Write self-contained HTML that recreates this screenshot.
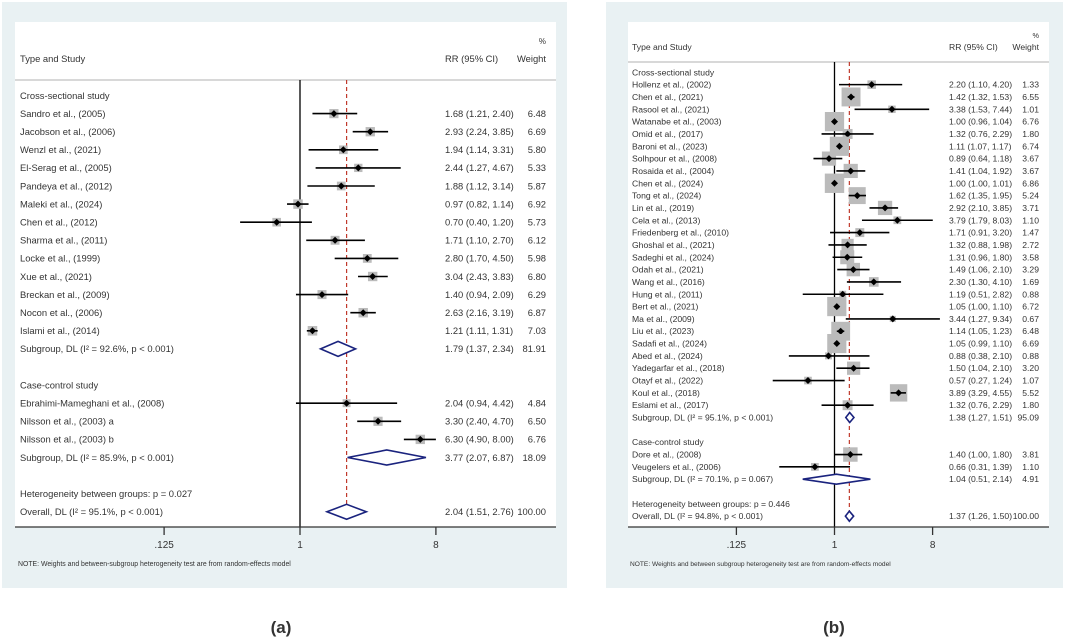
<!DOCTYPE html>
<html><head><meta charset="utf-8"><style>
body{margin:0;background:#fff;font-family:"Liberation Sans",sans-serif}
svg text{font-family:"Liberation Sans",sans-serif;fill:#333}
</style></head><body>
<svg id="c" width="1065" height="637" xmlns="http://www.w3.org/2000/svg"></svg>
<script>
// Panel A data
const aLabels=["Sandro et al., (2005)","Jacobson et al., (2006)","Wenzl et al., (2021)","El-Serag et al., (2005)","Pandeya et al., (2012)","Maleki et al., (2024)","Chen et al., (2012)","Sharma et al., (2011)","Locke et al., (1999)","Xue et al., (2021)","Breckan et al., (2009)","Nocon et al., (2006)","Islami et al., (2014)","Ebrahimi-Mameghani et al., (2008)","Nilsson et al., (2003) a","Nilsson et al., (2003) b"];
const aRR=[1.68,2.93,1.94,2.44,1.88,0.97,0.70,1.71,2.80,3.04,1.40,2.63,1.21,2.04,3.30,6.30];
const aLo=[1.21,2.24,1.14,1.27,1.12,0.82,0.40,1.10,1.70,2.43,0.94,2.16,1.11,0.94,2.40,4.90];
const aHi=[2.40,3.85,3.31,4.67,3.14,1.14,1.20,2.70,4.50,3.83,2.09,3.19,1.31,4.42,4.70,8.00];
const aW=[6.48,6.69,5.80,5.33,5.87,6.92,5.73,6.12,5.98,6.80,6.29,6.87,7.03,4.84,6.50,6.76];
const aGroup=[0,0,0,0,0,0,0,0,0,0,0,0,0,1,1,1];
const aSubLabels=["Subgroup, DL (I² = 92.6%, p < 0.001)","Subgroup, DL (I² = 85.9%, p < 0.001)","Overall, DL (I² = 95.1%, p < 0.001)"];
const aSubRR=[1.79,3.77,2.04];const aSubLo=[1.37,2.07,1.51];const aSubHi=[2.34,6.87,2.76];const aSubW=["81.91","18.09","100.00"];
const aHet="Heterogeneity between groups: p = 0.027";
// Panel B data
const bLabels=["Hollenz et al., (2002)","Chen et al., (2021)","Rasool et al., (2021)","Watanabe et al., (2003)","Omid et al., (2017)","Baroni et al., (2023)","Solhpour et al., (2008)","Rosaida et al., (2004)","Chen et al., (2024)","Tong et al., (2024)","Lin et al., (2019)","Cela et al., (2013)","Friedenberg et al., (2010)","Ghoshal et al., (2021)","Sadeghi et al., (2024)","Odah et al., (2021)","Wang et al., (2016)","Hung et al., (2011)","Bert et al., (2021)","Ma et al., (2009)","Liu et al., (2023)","Sadafi et al., (2024)","Abed et al., (2024)","Yadegarfar et al., (2018)","Otayf et al., (2022)","Koul et al., (2018)","Eslami  et al., (2017)","Dore et al., (2008)","Veugelers et al., (2006)"];
const bRR=[2.20,1.42,3.38,1.00,1.32,1.11,0.89,1.41,1.00,1.62,2.92,3.79,1.71,1.32,1.31,1.49,2.30,1.19,1.05,3.44,1.14,1.05,0.88,1.50,0.57,3.89,1.32,1.40,0.66];
const bLo=[1.10,1.32,1.53,0.96,0.76,1.07,0.64,1.04,1.00,1.35,2.10,1.79,0.91,0.88,0.96,1.06,1.30,0.51,1.00,1.27,1.05,0.99,0.38,1.04,0.27,3.29,0.76,1.00,0.31];
const bHi=[4.20,1.53,7.44,1.04,2.29,1.17,1.18,1.92,1.01,1.95,3.85,8.03,3.20,1.98,1.80,2.10,4.10,2.82,1.10,9.34,1.23,1.10,2.10,2.10,1.24,4.55,2.29,1.80,1.39];
const bW=[1.33,6.55,1.01,6.76,1.80,6.74,3.67,3.67,6.86,5.24,3.71,1.10,1.47,2.72,3.58,3.29,1.69,0.88,6.72,0.67,6.48,6.69,0.88,3.20,1.07,5.52,1.80,3.81,1.10];
const bGroup=[0,0,0,0,0,0,0,0,0,0,0,0,0,0,0,0,0,0,0,0,0,0,0,0,0,0,0,1,1];
const bSubLabels=["Subgroup, DL (I² = 95.1%, p < 0.001)","Subgroup, DL (I² = 70.1%, p = 0.067)","Overall, DL (I² = 94.8%, p < 0.001)"];
const bSubRR=[1.38,1.04,1.37];const bSubLo=[1.27,0.51,1.26];const bSubHi=[1.51,2.14,1.50];const bSubW=["95.09","4.91","100.00"];
const bHet="Heterogeneity between groups: p = 0.446";
const ticks=[0.125,1,8];const tickLabels=[".125","1","8"];

const svg=document.getElementById('c');const NS="http://www.w3.org/2000/svg";
function el(t,a,p){const e=document.createElementNS(NS,t);for(const k in a)e.setAttribute(k,a[k]);(p||svg).appendChild(e);return e;}
function txt(s,x,y,fs,anchor,p){const e=el('text',{x:x,y:y,'font-size':fs,'text-anchor':anchor||'start'},p);e.textContent=s;return e;}
const f2=v=>v.toFixed(2);

function panel(cfg,L,RR,LO,HI,W,G,SL,SR,SLo,SHi,SW,het){
  const g=el('g',{});
  
  
  const bg=el('rect',{x:cfg.ox,y:2,width:cfg.ow,height:586,fill:'#e9f1f3'},g);
  
  const wh=el('rect',{x:cfg.ix,y:22,width:cfg.iw,height:505,fill:'#fff'},g);
  
  const X=v=>cfg.x1+Math.log2(v)*cfg.k;
  const Y=i=>cfg.y0+cfg.dy*i;
  const fs=cfg.fs;
  let t=txt('Type and Study',cfg.tx,cfg.hy,fs,'start',g);
  t=txt('RR (95% CI)',cfg.rx,cfg.hy,fs,'start',g);
  t=txt('%',cfg.wx,cfg.py,fs*0.85,'end',g);
  t=txt('Weight',cfg.wx,cfg.hy,fs,'end',g);
  const sep=el('line',{x1:cfg.ix,x2:cfg.ix+cfg.iw,y1:cfg.sepy,y2:cfg.sepy,stroke:'#ccc','stroke-width':1.5},g);
  
  const n0=G.filter(v=>v===0).length,n1=G.length-n0;
  const rowOf=[];let r=1;
  for(let i=0;i<L.length;i++){ if(G[i]===1&&i===n0){r+=3;} rowOf.push(r);r++; }
  const sub0=n0+1, caseTitle=n0+3, sub1=n0+3+n1+1, hetR=sub1+2, ovR=sub1+3;
  let ln=el('line',{x1:X(1),x2:X(1),y1:cfg.sepy,y2:527,stroke:'#000','stroke-width':1.3},g);
  
  ln=el('line',{x1:X(SR[2]),x2:X(SR[2]),y1:cfg.sepy,y2:Y(ovR)+cfg.dh,stroke:'#c0392b','stroke-width':1.2,'stroke-dasharray':'4,3'},g);
  
  t=txt('Cross-sectional study',cfg.tx,Y(0)+fs*0.35,fs,'start',g);
  t=txt('Case-control study',cfg.tx,Y(caseTitle)+fs*0.35,fs,'start',g);
  for(let i=0;i<L.length;i++){
    const y=Y(rowOf[i]);
    const sg=el('g',{},g);
    t=txt(L[i],cfg.tx,y+fs*0.35,fs,'start',sg);
    t=txt(f2(RR[i])+' ('+f2(LO[i])+', '+f2(HI[i])+')',cfg.rx,y+fs*0.35,fs,'start',sg);
    t=txt(f2(W[i]),cfg.wx,y+fs*0.35,fs,'end',sg);
    const s=cfg.sq*Math.sqrt(W[i]);
    let m=el('rect',{x:X(RR[i])-s/2,y:y-s/2,width:s,height:s,fill:'#bbb'},sg);
    m=el('line',{x1:X(LO[i]),x2:X(HI[i]),y1:y,y2:y,stroke:'#000','stroke-width':1.6},sg);
    m=el('path',{d:`M${X(RR[i])-3.5},${y}L${X(RR[i])},${y-3.5}L${X(RR[i])+3.5},${y}L${X(RR[i])},${y+3.5}Z`,fill:'#000'},sg);
  }
  const subRows=[sub0,sub1,ovR];
  for(let j=0;j<3;j++){
    const y=Y(subRows[j]);
    t=txt(SL[j],cfg.tx,y+fs*0.35,fs,'start',g);
    t=txt(f2(SR[j])+' ('+f2(SLo[j])+', '+f2(SHi[j])+')',cfg.rx,y+fs*0.35,fs,'start',g);
    t=txt(SW[j],cfg.wx,y+fs*0.35,fs,'end',g);
    const h=cfg.dh;
    const d=el('path',{d:`M${X(SLo[j])},${y}L${X(SR[j])},${y-h}L${X(SHi[j])},${y}L${X(SR[j])},${y+h}Z`,fill:'#fff',stroke:'#1a237e','stroke-width':1.6},g);
    
  }
  t=txt(het,cfg.tx,Y(hetR)+fs*0.35,fs,'start',g);
  const ax=el('line',{x1:cfg.ix,x2:cfg.ix+cfg.iw,y1:527,y2:527,stroke:'#333','stroke-width':1.3},g);
  
  for(let i=0;i<ticks.length;i++){
    const tk=el('line',{x1:X(ticks[i]),x2:X(ticks[i]),y1:527,y2:535,stroke:'#333','stroke-width':1.3},g);
    
    t=txt(tickLabels[i],X(ticks[i]),548,10,'middle',g);
  }
  t=txt(cfg.note,cfg.tx-2,566,cfg.nfs,'start',g);
  t=el('text',{x:cfg.capx,y:633,'font-size':17,'font-weight':'bold','text-anchor':'middle',fill:'#000'},svg);t.textContent=cfg.cap;
  
}
panel({name:'panel-a',ox:2,ow:565,ix:15,iw:541,x1:300,k:45.3,y0:95.5,dy:18.1,fs:9.4,tx:20,rx:445,wx:546,hy:62,py:44,sepy:80,sq:3.6,dh:7.5,cap:'(a)',capx:281,nfs:6.9,
  note:'NOTE: Weights and between-subgroup heterogeneity test are from random-effects model'},
  aLabels,aRR,aLo,aHi,aW,aGroup,aSubLabels,aSubRR,aSubLo,aSubHi,aSubW,aHet);
panel({name:'panel-b',ox:606,ow:457,ix:628,iw:421,x1:834.5,k:32.7,y0:72.3,dy:12.33,fs:8.6,tx:632,rx:949,wx:1039,hy:50,py:38,sepy:62,sq:7.4,dh:5,cap:'(b)',capx:834,nfs:6.6,
  note:'NOTE: Weights and between subgroup heterogeneity test are from random-effects model'},
  bLabels,bRR,bLo,bHi,bW,bGroup,bSubLabels,bSubRR,bSubLo,bSubHi,bSubW,bHet);
</script>
</body></html>
